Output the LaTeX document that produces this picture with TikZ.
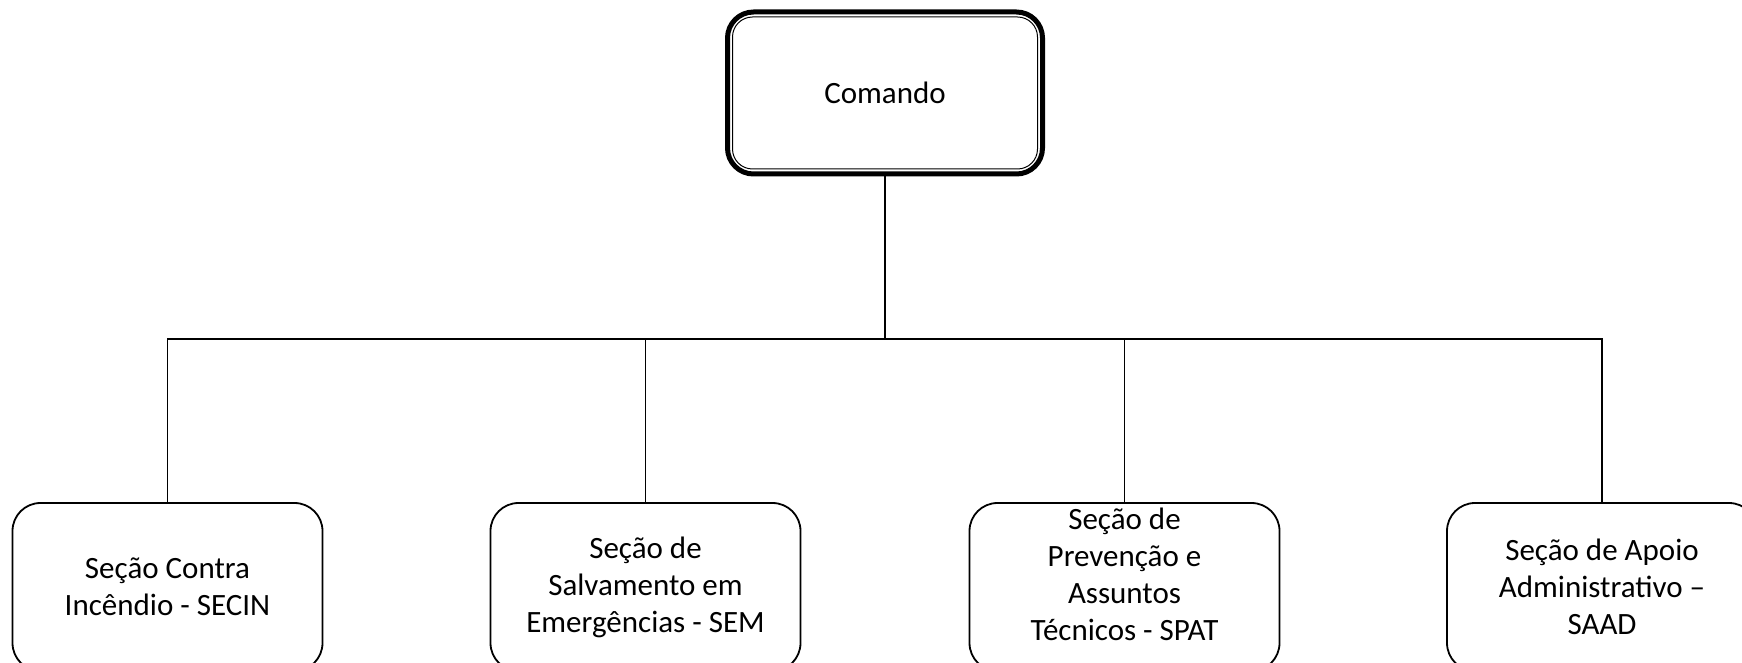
\documentclass[tikz,border=0pt]{standalone}
\usepackage{fontspec}
\setmainfont{Carlito}
\begin{document}
\begin{tikzpicture}[x=1pt,y=1pt,
  boxtxt/.style={font=\fontsize{31}{37}\selectfont, align=center, text=black},
  topbox/.style={draw=black, line width=5pt, rounded corners=26pt, minimum width=315pt, minimum height=162pt, inner sep=0pt, boxtxt},
  subbox/.style={draw=black, line width=1.8pt, rounded corners=28pt, minimum width=310pt, minimum height=168pt, inner sep=0pt, boxtxt},
  conn/.style={draw=black, line width=1.2pt}]
\useasboundingbox (0,0) rectangle (1742,662);
\clip (0,0) rectangle (1742,662);
\fill[white] (0,0) rectangle (1742,662);
% top box
\node[topbox] (top) at (885,569) {Comando};
\draw[line width=1pt, rounded corners=20pt] ([shift={(7.5,-7.5)}]top.north west) rectangle ([shift={(-7.5,7.5)}]top.south east);
% sub boxes
\node[subbox] (b1) at (167.5,75) {Seção Contra\\Incêndio - SECIN};
\node[subbox] (b2) at (645.5,75) {Seção de\\Salvamento em\\Emergências - SEM};
\node[subbox] (b3) at (1124.5,75) {};
\node[boxtxt] (b3t) at (1124.5,88) {Seção de\\Prevenção e\\Assuntos\\Técnicos - SPAT};
\node[subbox] (b4) at (1602,75) {Seção de Apoio\\Administrativo –\\SAAD};
% connectors
\coordinate (bus) at (885,323);
\draw[conn] (top.south) -- (bus);
\draw[conn] (b1.north) |- (bus);
\draw[conn] (b2.north) |- (bus);
\draw[conn] (b3.north) |- (bus);
\draw[conn] (b4.north) |- (bus);
\end{tikzpicture}
\end{document}
